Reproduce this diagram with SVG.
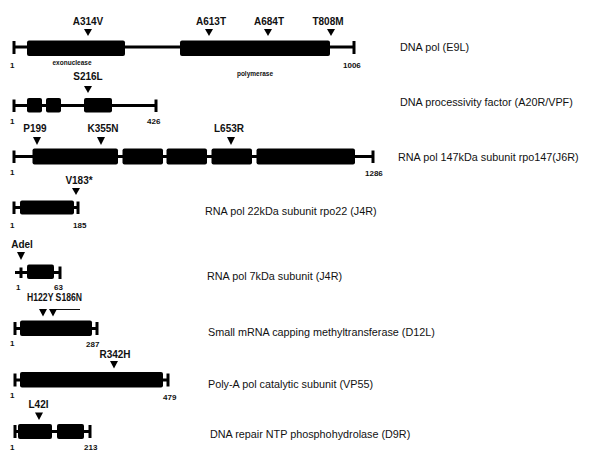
<svg xmlns="http://www.w3.org/2000/svg" width="600" height="456" viewBox="0 0 600 456">
<defs>
<style>
.bb{fill:#000}
.ln{stroke:#000;stroke-width:3;fill:none}
.cap{stroke:#000;stroke-width:3}
.mut{font-family:"Liberation Sans",Arial,sans-serif;font-weight:bold;font-size:10px;fill:#111;text-anchor:middle}
.num{font-family:"Liberation Sans",Arial,sans-serif;font-weight:bold;font-size:8px;fill:#111}
.dom{font-family:"Liberation Sans",Arial,sans-serif;font-weight:bold;font-size:6.5px;fill:#111;text-anchor:middle}
.lab{font-family:"Liberation Sans",Arial,sans-serif;font-size:10.8px;fill:#111}
</style>
</defs>
<rect width="600" height="456" fill="#fff"/>
<g id="e9l">
<line class="ln" x1="14" y1="47" x2="354" y2="47"/>
<line class="cap" x1="14" y1="41" x2="14" y2="54"/>
<line class="cap" x1="354" y1="41" x2="354" y2="54"/>
<rect class="bb" x="27" y="40.5" width="98" height="15.5" rx="2"/>
<rect class="bb" x="180" y="40.5" width="150" height="15.5" rx="2"/>
<text class="mut" x="88" y="25">A314V</text><polygon class="bb" points="84,29 92,29 88,36"/>
<text class="mut" x="211" y="25">A613T</text><polygon class="bb" points="205,29 213,29 209,36"/>
<text class="mut" x="269" y="25">A684T</text><polygon class="bb" points="264,29 272,29 268,36"/>
<text class="mut" x="328" y="25">T808M</text><polygon class="bb" points="327,29 335,29 331,36"/>
<text class="num" x="10" y="68">1</text>
<text class="num" x="343" y="68">1006</text>
<text class="dom" x="72" y="65">exonuclease</text>
<text class="dom" x="255" y="76">polymerase</text>
<text class="lab" x="400" y="51">DNA pol (E9L)</text>
</g>
<g id="a20r">
<line class="ln" x1="14" y1="105.5" x2="156" y2="105.5"/>
<line class="cap" x1="14" y1="99.5" x2="14" y2="112"/>
<line class="cap" x1="156" y1="99.5" x2="156" y2="112"/>
<rect class="bb" x="27" y="98" width="15" height="14.5" rx="2"/>
<rect class="bb" x="46" y="98" width="15" height="14.5" rx="2"/>
<rect class="bb" x="84" y="98" width="28" height="14.5" rx="2"/>
<text class="mut" x="88" y="80">S216L</text><polygon class="bb" points="84,86 92,86 88,93"/>
<text class="num" x="10" y="124">1</text>
<text class="num" x="147" y="124">426</text>
<text class="lab" x="400" y="106">DNA processivity factor (A20R/VPF)</text>
</g>
<g id="j6r">
<line class="ln" x1="14" y1="156.5" x2="373" y2="156.5"/>
<line class="cap" x1="14" y1="150.5" x2="14" y2="163"/>
<line class="cap" x1="373" y1="150.5" x2="373" y2="163"/>
<rect class="bb" x="32.5" y="148.5" width="85.5" height="16" rx="2"/>
<rect class="bb" x="122.5" y="148.5" width="40.5" height="16" rx="2"/>
<rect class="bb" x="166.5" y="148.5" width="40.5" height="16" rx="2"/>
<rect class="bb" x="211.5" y="148.5" width="40.5" height="16" rx="2"/>
<rect class="bb" x="256.5" y="148.5" width="98.5" height="16" rx="2"/>
<text class="mut" x="35" y="132">P199</text><polygon class="bb" points="33,137 41,137 37,145"/>
<text class="mut" x="103" y="132">K355N</text><polygon class="bb" points="97,137 105,137 101,145"/>
<text class="mut" x="229" y="132">L653R</text><polygon class="bb" points="227,137 235,137 231,145"/>
<text class="num" x="10" y="175">1</text>
<text class="num" x="365" y="176">1286</text>
<text class="lab" x="398" y="161">RNA pol 147kDa subunit rpo147(J6R)</text>
</g>
<g id="j4r22">
<line class="ln" x1="14" y1="207.5" x2="78" y2="207.5"/>
<line class="cap" x1="14" y1="201.5" x2="14" y2="214"/>
<line class="cap" x1="78" y1="201.5" x2="78" y2="214"/>
<rect class="bb" x="20" y="200.5" width="54" height="14" rx="2"/>
<text class="mut" x="79" y="184">V183*</text><polygon class="bb" points="72,188 80,188 76,195"/>
<text class="num" x="10" y="228">1</text>
<text class="num" x="73" y="228">185</text>
<text class="lab" x="205" y="215">RNA pol 22kDa subunit rpo22 (J4R)</text>
</g>
<g id="j4r7">
<line class="ln" x1="15" y1="272.5" x2="60" y2="272.5"/>
<line class="cap" x1="21" y1="267.5" x2="21" y2="278"/>
<line class="cap" x1="60" y1="266.5" x2="60" y2="279"/>
<rect class="bb" x="27" y="264.5" width="27" height="14.5" rx="2"/>
<text class="mut" x="22" y="248">Adel</text><polygon class="bb" points="17,252 25,252 21,260"/>
<text class="num" x="16" y="290">1</text>
<text class="num" x="54" y="290">63</text>
<text class="lab" x="207" y="280">RNA pol 7kDa subunit (J4R)</text>
</g>
<g id="d12l">
<line class="ln" x1="15" y1="328.5" x2="97" y2="328.5"/>
<line class="cap" x1="15" y1="322" x2="15" y2="335"/>
<line class="cap" x1="97" y1="322" x2="97" y2="335"/>
<rect class="bb" x="20" y="320.5" width="72" height="15.5" rx="2"/>
<text class="mut" x="27" y="300.5" style="text-anchor:start" textLength="55" lengthAdjust="spacingAndGlyphs">H122Y S186N</text>
<line x1="56" y1="309.5" x2="80" y2="309.5" stroke="#111" stroke-width="1"/>
<polygon class="bb" points="39,309 47,309 43,316.5"/>
<polygon class="bb" points="49,309 57,309 53,316.5"/>
<text class="num" x="10" y="346">1</text>
<text class="num" x="86" y="347">287</text>
<text class="lab" x="208" y="336">Small mRNA capping methyltransferase (D12L)</text>
</g>
<g id="vp55">
<line class="ln" x1="15" y1="380" x2="168" y2="380"/>
<line class="cap" x1="15" y1="373.5" x2="15" y2="386.5"/>
<line class="cap" x1="168" y1="373.5" x2="168" y2="386.5"/>
<rect class="bb" x="20" y="372" width="143" height="15.5" rx="2"/>
<text class="mut" x="115" y="358">R342H</text><polygon class="bb" points="110,361 118,361 114,368.5"/>
<text class="num" x="10" y="398">1</text>
<text class="num" x="163" y="400">479</text>
<text class="lab" x="208" y="388">Poly-A pol catalytic subunit (VP55)</text>
</g>
<g id="d9r">
<line class="ln" x1="15" y1="431.5" x2="90" y2="431.5"/>
<line class="cap" x1="15" y1="425" x2="15" y2="438"/>
<line class="cap" x1="90" y1="425" x2="90" y2="438"/>
<rect class="bb" x="18" y="424" width="34" height="15" rx="2"/>
<rect class="bb" x="57" y="424" width="27" height="15" rx="2"/>
<text class="mut" x="38.5" y="408">L42I</text><polygon class="bb" points="35,412.5 43,412.5 39,420"/>
<text class="num" x="10" y="450">1</text>
<text class="num" x="84" y="450">213</text>
<text class="lab" x="210" y="438">DNA repair NTP phosphohydrolase (D9R)</text>
</g>
<g id="connectors"></g>
</svg>
